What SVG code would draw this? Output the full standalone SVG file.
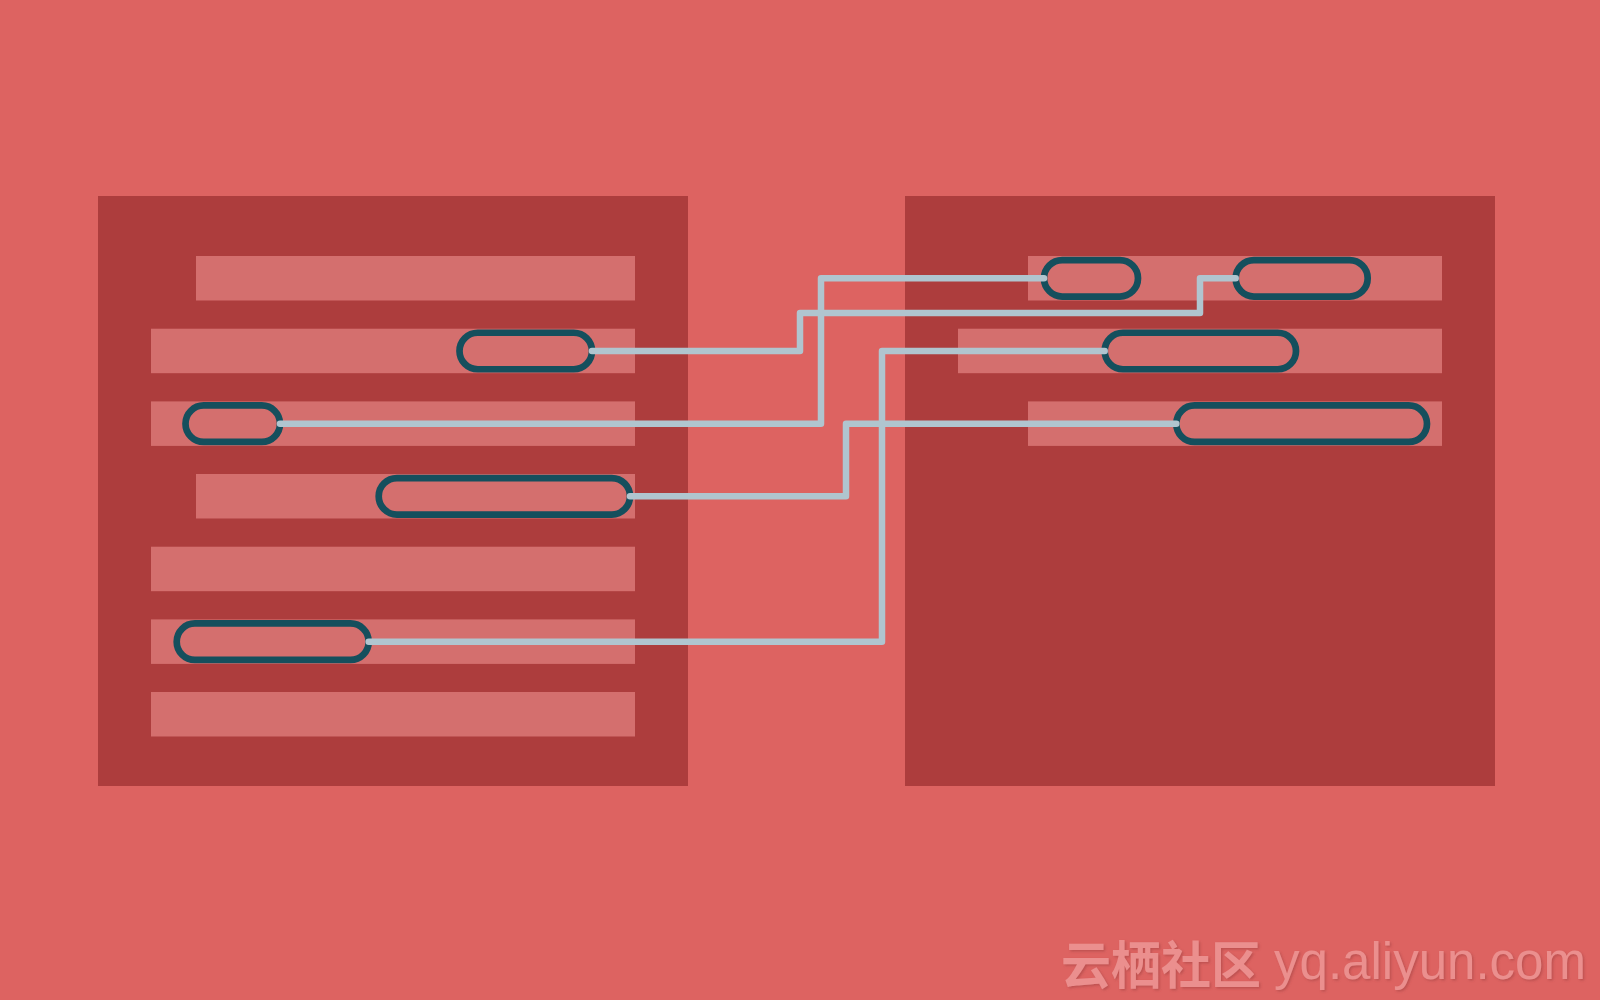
<svg xmlns="http://www.w3.org/2000/svg" width="1600" height="1000" viewBox="0 0 1600 1000">
<defs>
<style>
.panel{fill:#ad3d3d}
.bar{fill:#d46f6e}
.pill{fill:none;stroke:#154f5d;stroke-width:6.7}
.conn{fill:none;stroke:#b0c5cf;stroke-width:6.5;stroke-linecap:round;stroke-linejoin:round}
.wm{fill:#eb8f8e}
</style>
<filter id="sh" x="-5%" y="-20%" width="110%" height="140%">
<feDropShadow dx="1.5" dy="1.5" stdDeviation="1" flood-color="#a84444" flood-opacity="0.6"/>
</filter>
</defs>
<rect width="1600" height="1000" fill="#dd6361"/>
<g id="left-panel">
<rect class="panel" x="98" y="196" width="590" height="590"/>
<rect class="bar" x="196" y="256" width="439" height="44.5"/>
<rect class="bar" x="151" y="328.7" width="484" height="44.5"/>
<rect class="bar" x="151" y="401.4" width="484" height="44.5"/>
<rect class="bar" x="196" y="474" width="439" height="44.5"/>
<rect class="bar" x="151" y="546.7" width="484" height="44.5"/>
<rect class="bar" x="151" y="619.4" width="484" height="44.5"/>
<rect class="bar" x="151" y="692" width="484" height="44.5"/>
</g>
<g id="right-panel">
<rect class="panel" x="905" y="196" width="590" height="590"/>
<rect class="bar" x="1028" y="256" width="414" height="44.5"/>
<rect class="bar" x="958" y="328.7" width="484" height="44.5"/>
<rect class="bar" x="1028" y="401.4" width="414" height="44.5"/>
</g>
<g id="pill-l2"><rect class="pill" x="459.5" y="332.75" width="132.5" height="36.5" rx="18.25"/></g>
<g id="pill-l3"><rect class="pill" x="185.5" y="405.45" width="94.5" height="36.5" rx="18.25"/></g>
<g id="pill-l4"><rect class="pill" x="378.7" y="478.05" width="251.3" height="36.5" rx="18.25"/></g>
<g id="pill-l6"><rect class="pill" x="176.7" y="623.45" width="192" height="36.5" rx="18.25"/></g>
<g id="pill-r1a"><rect class="pill" x="1044" y="260.05" width="94" height="36.5" rx="18.25"/></g>
<g id="pill-r1b"><rect class="pill" x="1235.7" y="260.05" width="132" height="36.5" rx="18.25"/></g>
<g id="pill-r2"><rect class="pill" x="1104.7" y="332.75" width="191.3" height="36.5" rx="18.25"/></g>
<g id="pill-r3"><rect class="pill" x="1176.3" y="405.45" width="250.7" height="36.5" rx="18.25"/></g>
<g id="connectors">
<path class="conn" d="M592 351 H800 V313 H1200 V278.3 H1235.7"/>
<path class="conn" d="M280 423.7 H821 V278.3 H1044"/>
<path class="conn" d="M630 496.3 H846 V423.7 H1176.3"/>
<path class="conn" d="M368.7 641.7 H882 V351 H1104.7"/>
</g>
<g id="watermark" filter="url(#sh)">
<text class="wm" x="1061" y="984" font-family="'Noto Sans CJK SC', sans-serif" font-weight="bold" font-size="51" textLength="200" lengthAdjust="spacingAndGlyphs">云栖社区</text>
<text class="wm" x="1274" y="979" font-family="'Liberation Sans', sans-serif" font-size="51" textLength="312" lengthAdjust="spacingAndGlyphs">yq.aliyun.com</text>
</g>
</svg>
